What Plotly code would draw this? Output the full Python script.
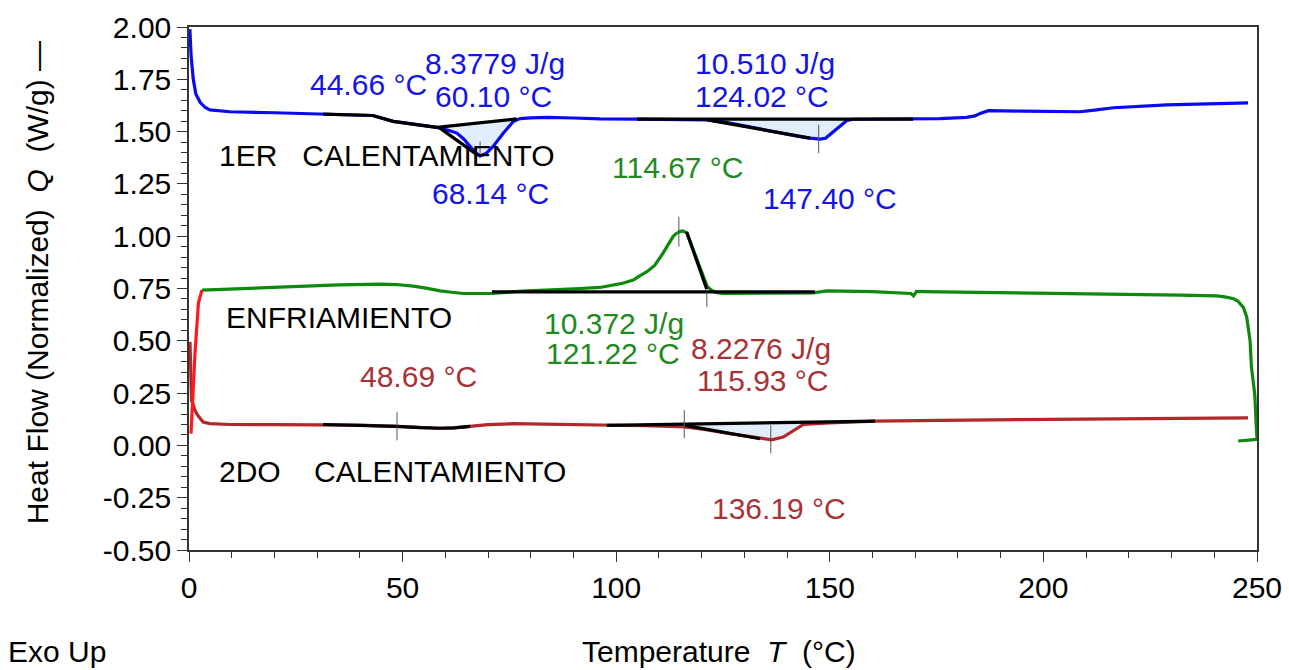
import numpy as np
import plotly.graph_objects as go

# ---------------- data ----------------
# 1st heating (blue)
heat1_T = [0.2, 0.5, 1.0, 1.6, 2.6, 3.8, 4.9, 9.6, 20, 31.4, 43, 47.8, 53, 58, 60.3, 62.7, 64.3, 65.8,
           67.0, 68.1, 69.5, 71.2, 73.6, 75.9, 77.5, 80, 83.8, 90, 96.2, 104.9, 113, 121.3, 126, 130.6,
           135, 140, 143, 145.4, 147.7, 149, 150, 151.2, 152.4, 154.0, 155.5, 160, 169.5, 175.8, 182,
           184, 185.2, 187.1, 195, 208.6, 212, 216.4, 228.9, 240, 247.9]
heat1_Q = [1.99, 1.86, 1.75, 1.68, 1.64, 1.615, 1.604, 1.595, 1.59, 1.584, 1.577, 1.549, 1.535, 1.52,
           1.509, 1.493, 1.465, 1.429, 1.40, 1.384, 1.395, 1.429, 1.493, 1.548, 1.562, 1.566, 1.568,
           1.565, 1.561, 1.56, 1.558, 1.556, 1.543, 1.525, 1.505, 1.485, 1.476, 1.469, 1.464, 1.468,
           1.485, 1.505, 1.528, 1.553, 1.559, 1.56, 1.561, 1.562, 1.568, 1.575, 1.587, 1.6, 1.598,
           1.595, 1.603, 1.614, 1.628, 1.634, 1.637]

# cooling (green), in the order it was recorded
cool_T = [245.6, 250.0, 249.8, 249.5, 248.7, 248.4, 247.6, 246.8, 245.5, 244.5, 242.5, 240.6, 232,
          221, 200, 189.8, 180, 172, 170.3, 169.6, 169.0, 160, 149.3, 146.1, 135, 125, 123.3, 122.3,
          121.3, 120.4, 119.2, 118, 117.2, 116.5, 115.6, 114.9, 114.0, 113.3, 112.2, 111, 109, 107.2,
          105.5, 104, 101.5, 99.3, 96.2, 91.5, 85, 78, 70.9, 64.2, 61.5, 58.8, 55.5, 52.5, 48.5, 44.7,
          35, 21.3, 10, 3.0]
cool_Q = [0.021, 0.029, 0.10, 0.24, 0.374, 0.496, 0.613, 0.66, 0.69, 0.701, 0.71, 0.715, 0.718,
          0.722, 0.727, 0.730, 0.733, 0.735, 0.736, 0.715, 0.726, 0.735, 0.739, 0.729, 0.727, 0.726,
          0.731, 0.742, 0.76, 0.806, 0.87, 0.934, 0.98, 1.017, 1.025, 1.022, 1.012, 0.998, 0.96, 0.92,
          0.86, 0.83, 0.81, 0.79, 0.775, 0.766, 0.755, 0.750, 0.744, 0.738, 0.726, 0.726, 0.732,
          0.739, 0.752, 0.761, 0.769, 0.771, 0.767, 0.755, 0.748, 0.742]

# end of cooling (red)
coolend_T = [3.0, 2.2, 1.4, 0.86, 0.47]
coolend_Q = [0.742, 0.679, 0.44, 0.2, 0.056]

# 2nd heating (dark red)
heat2_T = [0.23, 0.4, 0.6, 0.9, 1.4, 2.0, 2.6, 3.3, 4.9, 9.6, 20, 31.4, 40, 48.6, 54, 58.8, 62, 65.8,
           70, 75.9, 85, 97.8, 107, 116.1, 121, 126.6, 130, 133.7, 136.4, 139.1, 141.5, 143.8, 150,
           160.6, 175.8, 200, 225, 247.9]
heat2_Q = [0.495, 0.33, 0.215, 0.2, 0.168, 0.145, 0.128, 0.112, 0.104, 0.1, 0.099, 0.1, 0.097, 0.091,
           0.085, 0.082, 0.084, 0.091, 0.099, 0.104, 0.102, 0.096, 0.094, 0.088, 0.075, 0.056, 0.045,
           0.032, 0.027, 0.04, 0.072, 0.1, 0.107, 0.116, 0.12, 0.125, 0.129, 0.132]

# analysis lines (black)
h1_glass_T = [31.4, 43, 47.8, 53, 58]
h1_glass_Q = [1.584, 1.577, 1.549, 1.535, 1.52]
h1_base1_T = [58, 76.7]
h1_base1_Q = [1.52, 1.561]
h1_tan1_T = [58.5, 67.4]
h1_tan1_Q = [1.52, 1.39]
h1_base2_T = [104.9, 169.5]
h1_base2_Q = [1.56, 1.56]
h1_tan2_T = [121.3, 145.4]
h1_tan2_Q = [1.556, 1.469]
c_base_T = [70.9, 146.5]
c_base_Q = [0.734, 0.734]
c_tan_T = [116.5, 121.2]
c_tan_Q = [1.02, 0.746]
h2_glass_T = [31.4, 40, 48.6, 54, 58.8, 62, 65.8]
h2_glass_Q = [0.1, 0.097, 0.091, 0.085, 0.082, 0.084, 0.091]
h2_base_T = [97.8, 160.6]
h2_base_Q = [0.096, 0.116]
h2_tan_T = [116.1, 133.7]
h2_tan_Q = [0.096, 0.032]

# marker ticks: (temperature, top, bottom)
mark_T = [68.14, 147.40, 114.67, 121.22, 48.69, 115.93, 136.19]
mark_top = [1.453, 1.533, 1.093, 0.734, 0.158, 0.168, 0.096]
mark_bot = [1.373, 1.397, 0.95, 0.662, 0.024, 0.034, -0.038]

# labels
lab_text = ["44.66 °C", "8.3779 J/g", "60.10 °C", "1ER\u00a0\u00a0\u00a0CALENTAMIENTO", "68.14 °C",
            "10.510 J/g", "124.02 °C", "114.67 °C", "147.40 °C", "ENFRIAMIENTO", "10.372 J/g",
            "121.22 °C", "8.2276 J/g", "115.93 °C", "48.69 °C", "2DO\u00a0\u00a0\u00a0\u00a0CALENTAMIENTO",
            "136.19 °C"]
lab_T = [41.9, 71.6, 71.2, 46.3, 70.5, 134.8, 134.1, 114.5, 150.0, 35.2, 99.6, 99.3, 133.9, 134.4,
         53.8, 47.6, 138.0]
lab_Q = [1.724, 1.825, 1.667, 1.384, 1.202, 1.827, 1.669, 1.329, 1.178, 0.613, 0.582, 0.44, 0.463,
         0.311, 0.33, -0.125, -0.30]
lab_col = ["blue", "blue", "blue", "black", "blue", "blue", "blue", "green", "blue", "black", "green",
           "green", "dred", "dred", "dred", "black", "dred"]

x_range = [0, 250]
y_range = [-0.5, 2.0]
y_tickvals = [-0.5, -0.25, 0.0, 0.25, 0.5, 0.75, 1.0, 1.25, 1.5, 1.75, 2.0]
y_ticktext = ["-0.50", "-0.25", "0.00", "0.25", "0.50", "0.75", "1.00", "1.25", "1.50", "1.75", "2.00"]

# ---------------- styling ----------------
C = {"blue": "#0a0af0", "green": "#0d8a0d", "red": "#ff1a1a", "dred": "#b0282c", "black": "#000000"}
TXT = {"blue": "#1414e6", "green": "#1f8a1f", "dred": "#a83236", "black": "#000000"}
FILL = "rgba(220,234,250,0.85)"
FONT = "Liberation Sans, Arial, sans-serif"

fig = go.Figure()


def fill_poly(T, Q, bT, bQ):
    T = np.asarray(T, float)
    Q = np.asarray(Q, float)
    a, b = bT
    inner = (T > a) & (T < b)
    cx = [a] + list(T[inner]) + [b]
    cy = [float(np.interp(a, T, Q))] + list(Q[inner]) + [float(np.interp(b, T, Q))]
    xs = [a, b] + cx[::-1] + [a]
    ys = [bQ[0], bQ[1]] + cy[::-1] + [bQ[0]]
    return xs, ys


for (T, Q, bT, bQ) in [(heat1_T, heat1_Q, h1_base1_T, h1_base1_Q),
                       (heat1_T, heat1_Q, h1_base2_T, h1_base2_Q),
                       (heat2_T, heat2_Q, h2_base_T, h2_base_Q)]:
    xs, ys = fill_poly(T, Q, bT, bQ)
    fig.add_trace(go.Scatter(x=xs, y=ys, mode="lines", fill="toself", fillcolor=FILL,
                             line=dict(width=0), hoverinfo="skip", showlegend=False))

for T, Q, col in [(heat1_T, heat1_Q, "blue"), (cool_T, cool_Q, "green"),
                  (heat2_T, heat2_Q, "dred"), (coolend_T, coolend_Q, "red")]:
    fig.add_trace(go.Scatter(x=T, y=Q, mode="lines", line=dict(color=C[col], width=3.2),
                             showlegend=False))

for T, Q in [(h1_glass_T, h1_glass_Q), (h1_base1_T, h1_base1_Q), (h1_tan1_T, h1_tan1_Q),
             (h1_base2_T, h1_base2_Q), (h1_tan2_T, h1_tan2_Q), (c_base_T, c_base_Q),
             (c_tan_T, c_tan_Q), (h2_glass_T, h2_glass_Q), (h2_base_T, h2_base_Q),
             (h2_tan_T, h2_tan_Q)]:
    fig.add_trace(go.Scatter(x=T, y=Q, mode="lines", line=dict(color="#000000", width=3.2),
                             showlegend=False))

mx, my = [], []
for t, a, b in zip(mark_T, mark_top, mark_bot):
    mx += [t, t, None]
    my += [a, b, None]
fig.add_trace(go.Scatter(x=mx, y=my, mode="lines", line=dict(color="#555555", width=1),
                         showlegend=False))

for txt, t, q, col in zip(lab_text, lab_T, lab_Q, lab_col):
    fig.add_annotation(x=t, y=q, text=txt, showarrow=False, xanchor="center", yanchor="middle",
                       font=dict(family=FONT, size=30, color=TXT[col]))

# axis titles and note
fig.add_annotation(xref="paper", yref="paper", x=-0.1423, y=0.51, textangle=-90,
                   text="Heat Flow (Normalized)\u00a0\u00a0<i>Q</i>\u00a0\u00a0(W/g) \u2014",
                   showarrow=False, xanchor="center", yanchor="middle",
                   font=dict(family=FONT, size=30, color="#000000"))
fig.add_annotation(xref="paper", yref="paper", x=0.4967, y=-0.195,
                   text="Temperature\u00a0\u00a0<i>T</i>\u00a0\u00a0(°C)", showarrow=False,
                   xanchor="center", yanchor="middle", font=dict(family=FONT, size=30, color="#000000"))
fig.add_annotation(xref="paper", yref="paper", x=-0.1236, y=-0.195, text="Exo Up", showarrow=False,
                   xanchor="center", yanchor="middle", font=dict(family=FONT, size=30, color="#000000"))

axis_common = dict(showline=True, linecolor="#333333", linewidth=1.5, mirror=True, showgrid=False,
                   zeroline=False, ticks="outside", ticklen=10, tickwidth=1.2, tickcolor="#333333",
                   tickfont=dict(family=FONT, size=30, color="#000000"), automargin=False)
fig.update_xaxes(range=x_range, dtick=50, tick0=0,
                 minor=dict(dtick=10, ticks="outside", ticklen=6, tickcolor="#333333", tickwidth=1.2),
                 **axis_common)
fig.update_yaxes(range=y_range, tickmode="array", tickvals=y_tickvals, ticktext=y_ticktext,
                 minor=dict(dtick=0.05, tick0=0, ticks="outside", ticklen=6, tickcolor="#333333",
                            tickwidth=1.2),
                 **axis_common)

fig.update_layout(width=1289, height=670, margin=dict(l=189, r=32, t=27, b=120, autoexpand=False),
                  paper_bgcolor="white", plot_bgcolor="white", showlegend=False)

fig.write_html("out.html", config={"displayModeBar": False},
               post_script="document.body.style.margin='0';document.body.style.overflow='hidden';")
